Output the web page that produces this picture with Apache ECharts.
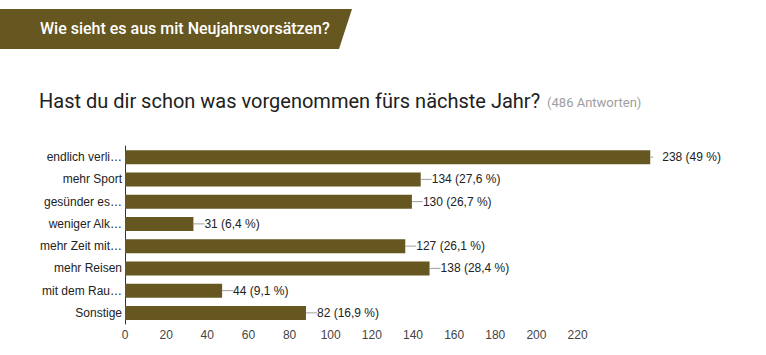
<!DOCTYPE html>
<html>
<head>
<meta charset="utf-8">
<script src="https://cdn.jsdelivr.net/npm/echarts@6/dist/echarts.min.js"></script>
<style>
html,body{margin:0;padding:0;background:#fff;}
#c{width:766px;height:355px;}
</style>
</head>
<body>
<div id="c"></div>
<script>
var headerText = 'Wie sieht es aus mit Neujahrsvorsätzen?';
var questionText = 'Hast du dir schon was vorgenommen fürs nächste Jahr?';
var responsesText = '(486 Antworten)';
var categories = ['endlich verli…','mehr Sport','gesünder es…','weniger Alk…','mehr Zeit mit…','mehr Reisen','mit dem Rau…','Sonstige'];
var values = [238,134,130,31,127,138,44,82];
var percents = ['49','27,6','26,7','6,4','26,1','28,4','9,1','16,9'];
var tickStep = 20;
var tickMaxShown = 220;

var chart = echarts.init(document.getElementById('c'), null, {renderer:'svg'});

var data = values.map(function(v, i){
  var item = {value: v};
  if (i === 0) {
    item.label = {formatter: '{s|}{g|}{t|' + v + ' (' + percents[i] + ' %)}'};
  }
  return item;
});

chart.setOption({
  animation: false,
  backgroundColor: '#ffffff',
  graphic: [
    {type:'polygon', shape:{points:[[0,9],[352,9],[339,49],[0,49]]}, style:{fill:'#665720'}},
    {type:'text', left:40, top:20, style:{text:headerText, fill:'#ffffff', font:'500 16px Roboto'}}
  ],
  title: {
    left: 39, top: 91, padding: 0,
    text: '{a|' + questionText + '} {b|' + responsesText + '}',
    textStyle: {
      fontWeight:'normal',
      rich: {
        a: {fontFamily:'Roboto', fontSize:20, fontWeight:'normal', color:'#212121'},
        b: {fontFamily:'Roboto', fontSize:13, fontWeight:'normal', color:'#9e9e9e', padding:[3,0,0,2]}
      }
    }
  },
  grid: {left:125, right:65, top:146, bottom:31, outerBoundsMode:'none', containLabel:false},
  xAxis: [
    {type:'value', min:0, max:261, show:false},
    {type:'value', min:0, max:280, interval:tickStep, position:'bottom',
     axisLine:{show:false}, axisTick:{show:false}, splitLine:{show:false},
     axisLabel:{color:'#444', fontFamily:'Arial', fontSize:12, margin:5, showMaxLabel:false,
       formatter:function(v){return v > tickMaxShown ? '' : String(v);}}}
  ],
  yAxis: {
    type:'category', data:categories, inverse:true,
    axisLine:{show:true, lineStyle:{color:'#333', width:1}},
    axisTick:{show:false},
    axisLabel:{color:'#222', fontFamily:'Arial', fontSize:12, margin:3}
  },
  series: [{
    type:'bar', xAxisIndex:0, data:data, barWidth:14,
    itemStyle:{color:'#665720'},
    label:{
      show:true, position:'right', distance:0,
      formatter:function(p){return '{l|}{t|' + p.value + ' (' + percents[p.dataIndex] + ' %)}';},
      rich:{
        l:{width:11, height:1, backgroundColor:'#9e9e9e'},
        s:{width:3, height:1, backgroundColor:'#9e9e9e'},
        g:{width:9, height:1},
        t:{color:'#222', fontFamily:'Arial', fontSize:12}
      }
    }
  }]
});
</script>
</body>
</html>
